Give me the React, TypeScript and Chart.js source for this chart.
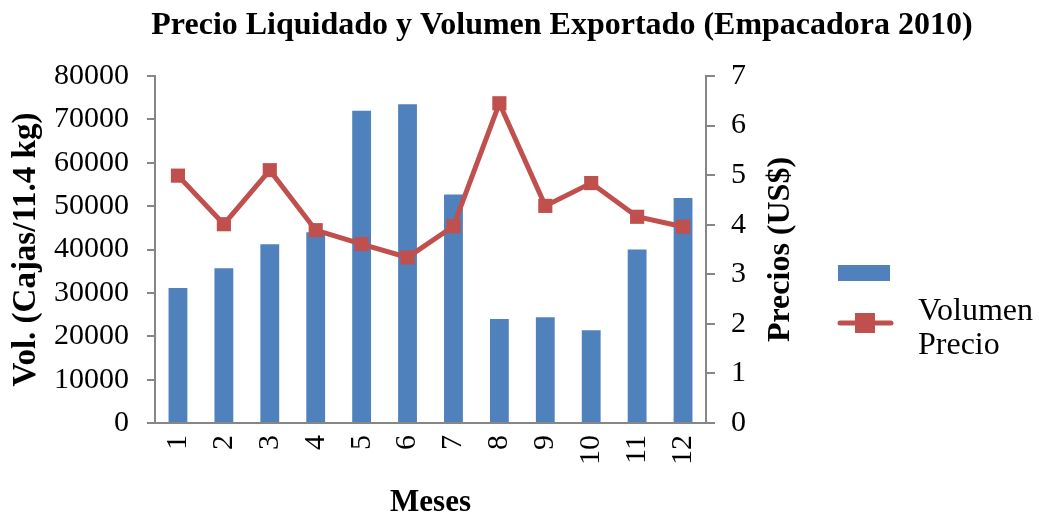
import React, { useEffect, useRef } from "react";
import { Chart, registerables } from "chart.js";

Chart.register(...registerables);

const months = ["1", "2", "3", "4", "5", "6", "7", "8", "9", "10", "11", "12"];
const volumen = [31100, 35700, 41200, 44000, 72000, 73500, 52700, 24000, 24400, 21400, 40000, 51900];
const precio = [4.99, 4.01, 5.1, 3.89, 3.61, 3.34, 3.97, 6.45, 4.38, 4.84, 4.16, 3.96];
const volTicks = [0, 10000, 20000, 30000, 40000, 50000, 60000, 70000, 80000];
const precioTicks = [0, 1, 2, 3, 4, 5, 6, 7];

const titleText = "Precio Liquidado y Volumen Exportado (Empacadora 2010)";
const xTitle = "Meses";
const yTitle = "Vol. (Cajas/11.4 kg)";
const y1Title = "Precios (US$)";
const legendLabels = ["Volumen", "Precio"];

const BLUE = "#4F81BD";
const RED = "#C0504D";
const AXIS = "#868686";
const FONT = "'Liberation Serif', 'Times New Roman', serif";

const extrasPlugin = {
  id: "extras",
  afterDraw(chart: any) {
    const ctx = chart.ctx;
    const area = chart.chartArea;
    // Chart title
    ctx.save();
    ctx.fillStyle = "#000";
    ctx.font = `bold 32px ${FONT}`;
    ctx.textAlign = "center";
    ctx.textBaseline = "alphabetic";
    ctx.fillText(titleText, 562, 34);
    ctx.restore();

    // Right axis title, reading bottom to top
    ctx.save();
    ctx.fillStyle = "#000";
    ctx.font = `bold 32px ${FONT}`;
    ctx.textAlign = "center";
    ctx.textBaseline = "alphabetic";
    ctx.translate(789, (area.top + area.bottom) / 2);
    ctx.rotate(-Math.PI / 2);
    ctx.fillText(y1Title, 0, 0);
    ctx.restore();

    ctx.save();
    // Blue swatch (bar series, no label beside it)
    ctx.fillStyle = BLUE;
    ctx.fillRect(838, 265, 52, 16);
    // Red line with square marker
    ctx.strokeStyle = RED;
    ctx.lineWidth = 5;
    ctx.lineCap = "round";
    ctx.beginPath();
    ctx.moveTo(840, 323);
    ctx.lineTo(891, 323);
    ctx.stroke();
    ctx.fillStyle = RED;
    ctx.fillRect(855, 313, 20, 20);
    // Labels
    ctx.fillStyle = "#000";
    ctx.font = `32px ${FONT}`;
    ctx.textBaseline = "alphabetic";
    ctx.textAlign = "left";
    ctx.fillText(legendLabels[0], 918, 320);
    ctx.fillText(legendLabels[1], 918, 354);
    ctx.restore();
  },
};

export default function App() {
  const ref = useRef<HTMLCanvasElement | null>(null);

  useEffect(() => {
    document.body.style.margin = "0";
    const canvas = ref.current;
    if (!canvas) return;
    const chart = new Chart(canvas, {
      type: "bar",
      data: {
        labels: months,
        datasets: [
          {
            type: "line",
            label: legendLabels[1],
            data: precio,
            yAxisID: "y1",
            borderColor: RED,
            backgroundColor: RED,
            borderWidth: 5,
            pointStyle: "rect",
            pointRadius: 10,
            pointBorderWidth: 0,
            pointBackgroundColor: RED,
            tension: 0,
            order: 0,
          } as any,
          {
            type: "bar",
            label: legendLabels[0],
            data: volumen,
            yAxisID: "y",
            backgroundColor: BLUE,
            barPercentage: 0.41,
            categoryPercentage: 1,
            order: 1,
          },
        ],
      },
      options: {
        responsive: false,
        animation: false,
        layout: { padding: { left: 0, right: 240, top: 76, bottom: 0 } },
        plugins: {
          legend: { display: false },
          tooltip: { enabled: false },
          title: { display: false },
        },
        scales: {
          x: {
            grid: { display: false, drawTicks: false },
            border: { display: true, color: AXIS, width: 2 },
            ticks: {
              color: "#000",
              font: { family: FONT, size: 30 },
              minRotation: 90,
              maxRotation: 90,
              padding: 12,
            },
            title: {
              display: true,
              text: xTitle,
              color: "#000",
              font: { family: FONT, size: 31, weight: "bold", lineHeight: 1 },
              padding: { top: 0, bottom: -4 },
            },
            afterFit(s: any) {
              s.height = 91;
            },
          },
          y: {
            position: "left",
            min: 0,
            max: 80000,
            afterBuildTicks(s: any) {
              s.ticks = volTicks.map((v) => ({ value: v }));
            },
            grid: { drawOnChartArea: false, drawTicks: true, tickLength: 8, color: AXIS, lineWidth: 2 },
            border: { display: true, color: AXIS, width: 2 },
            ticks: {
              color: "#000",
              font: { family: FONT, size: 30 },
              padding: 18,
              callback: (v: any) => String(v),
            },
            title: {
              display: true,
              text: yTitle,
              color: "#000",
              font: { family: FONT, size: 33, weight: "bold", lineHeight: 1 },
              padding: { top: 10, bottom: 0 },
            },
            afterFit(s: any) {
              s.width = 155;
            },
          },
          y1: {
            position: "right",
            min: 0,
            max: 7,
            afterBuildTicks(s: any) {
              s.ticks = precioTicks.map((v) => ({ value: v }));
            },
            grid: { drawOnChartArea: false, drawTicks: true, tickLength: 9, color: AXIS, lineWidth: 2 },
            border: { display: true, color: AXIS, width: 2 },
            ticks: {
              color: "#000",
              font: { family: FONT, size: 30 },
              padding: 16,
              callback: (v: any) => String(v),
            },
            title: { display: false },
            afterFit(s: any) {
              s.width = 93;
            },
          },
        },
      },
      plugins: [extrasPlugin],
    });
    return () => chart.destroy();
  }, []);

  return (
    <div style={{ width: 1039, height: 514 }}>
      <canvas ref={ref} width={1039} height={514} style={{ display: "block", width: 1039, height: 514 }} />
    </div>
  );
}
